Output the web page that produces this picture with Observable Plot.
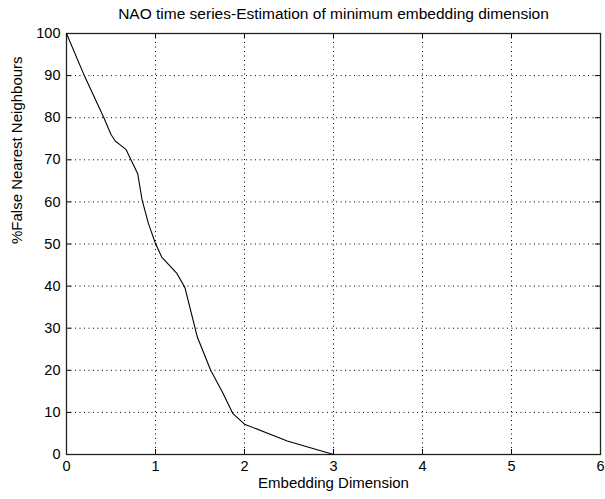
<!DOCTYPE html>
<html>
<head>
<meta charset="utf-8">
<script src="https://cdn.jsdelivr.net/npm/d3@7"></script>
<script src="https://cdn.jsdelivr.net/npm/@observablehq/plot@0.6"></script>
<style>
  html, body { margin: 0; padding: 0; background: #fff; }
  #chart svg { display: block; }
</style>
</head>
<body>
<div id="chart"></div>
<script>
const titleText = "NAO time series-Estimation of minimum embedding dimension";
const xLabel = "Embedding Dimension";
const yLabel = "%False Nearest Neighbours";

const dimension = [0, 0.20, 0.42, 0.50, 0.55, 0.60, 0.67, 0.80, 0.85, 0.92, 1.00, 1.07, 1.24, 1.33, 1.47, 1.62, 1.75, 1.87, 2.00, 2.48, 3.00];
const fnn = [100, 90, 80, 76, 74.4, 73.6, 72.4, 66.7, 60.4, 54.9, 50.1, 46.9, 43, 39.7, 27.9, 20, 14.9, 9.7, 7.2, 3.2, 0];

const xTicks = [0, 1, 2, 3, 4, 5, 6];
const yTicks = [0, 10, 20, 30, 40, 50, 60, 70, 80, 90, 100];

const data = dimension.map((d, i) => ({x: d, y: fnn[i]}));

const W = 605, H = 499;
const mTop = 33, mBottom = 45, mLeft = 66, mRight = 5;
const innerH = H - mTop - mBottom;
const innerW = W - mLeft - mRight;
const font = "'Liberation Sans', Arial, Helvetica, sans-serif";

const chart = Plot.plot({
  width: W,
  height: H,
  marginTop: mTop,
  marginBottom: mBottom,
  marginLeft: mLeft,
  marginRight: mRight,
  style: {fontFamily: font, fontSize: "14.5px", color: "#000", background: "#fff"},
  x: {domain: [0, 6], ticks: xTicks},
  y: {domain: [0, 100], ticks: yTicks},
  marks: [
    // dotted grid
    Plot.ruleX(xTicks.slice(1, -1), {stroke: "#000", strokeWidth: 1, strokeDasharray: "1,3.5"}),
    Plot.ruleY(yTicks.slice(1, -1), {stroke: "#000", strokeWidth: 1, strokeDasharray: "1,3.5"}),
    // inward ticks bottom/top
    Plot.tickX(xTicks, {x: d => d, insetTop: innerH - 5, stroke: "#000"}),
    Plot.tickX(xTicks, {x: d => d, insetBottom: innerH - 5, stroke: "#000"}),
    // inward ticks left/right
    Plot.tickY(yTicks, {y: d => d, insetRight: innerW - 5, stroke: "#000"}),
    Plot.tickY(yTicks, {y: d => d, insetLeft: innerW - 5, stroke: "#000"}),
    Plot.frame({stroke: "#222", strokeWidth: 1.3}),
    Plot.axisX(xTicks, {tickSize: 0, tickPadding: 6, fontSize: 14.5, label: null}),
    Plot.axisY(yTicks, {tickSize: 0, tickPadding: 6, fontSize: 14.5, label: null}),
    Plot.line(data, {x: "x", y: "y", stroke: "#000", strokeWidth: 1.1}),
    Plot.text([titleText], {frameAnchor: "top", dy: -19, text: d => d, fontSize: 15.5, lineAnchor: "middle"}),
    Plot.text([xLabel], {frameAnchor: "bottom", dy: 29, text: d => d, fontSize: 15, lineAnchor: "middle"}),
    Plot.text([yLabel], {frameAnchor: "left", dx: -49, rotate: -90, text: d => d, fontSize: 15})
  ]
});
document.getElementById("chart").appendChild(chart);
</script>
</body>
</html>
